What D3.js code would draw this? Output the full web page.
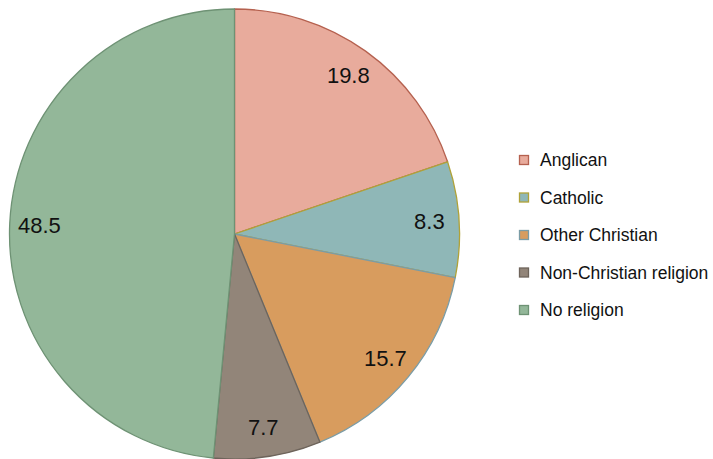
<!DOCTYPE html>
<html>
<head>
<meta charset="utf-8">
<script src="https://cdn.jsdelivr.net/npm/d3@7/dist/d3.min.js"></script>
<style>
  html, body { margin: 0; padding: 0; background: #fff; }
  svg { display: block; }
  text { font-family: "Liberation Sans", Arial, Helvetica, sans-serif; }
</style>
</head>
<body>
<svg id="chart" width="713" height="459"></svg>
<script>
const categories = ["Anglican", "Catholic", "Other Christian", "Non-Christian religion", "No religion"];
const values = [19.8, 8.3, 15.7, 7.7, 48.5];
const fills = ["#e8ab9c", "#8fb7b7", "#d89c5e", "#928579", "#93b799"];
const strokes = ["#b5614f", "#b0a238", "#7a9ca6", "#6e645b", "#6e9274"];

const svg = d3.select("#chart");
const cx = 234.5, cy = 234, r = 225;

const pie = d3.pie().sort(null).value(d => d.value);
const data = categories.map((c, i) => ({ name: c, value: values[i], fill: fills[i], stroke: strokes[i] }));
const arcs = pie(data);

const arc = d3.arc().innerRadius(0).outerRadius(r);
const labelArc = d3.arc().innerRadius(r * 0.868).outerRadius(r * 0.868);

const g = svg.append("g").attr("transform", `translate(${cx},${cy})`);

g.selectAll("path.slice")
  .data(arcs)
  .join("path")
  .attr("class", "slice")
  .attr("d", arc)
  .attr("fill", d => d.data.fill)
  .attr("stroke", d => d.data.stroke)
  .attr("stroke-width", 1.3)
  .attr("stroke-linejoin", "round");

g.selectAll("text.lbl")
  .data(arcs)
  .join("text")
  .attr("class", "lbl")
  .attr("transform", d => `translate(${labelArc.centroid(d)})`)
  .attr("text-anchor", "middle")
  .attr("dy", "0.36em")
  .attr("font-size", 22)
  .attr("fill", "#111")
  .text(d => d3.format(".1f")(d.data.value));

const legend = svg.append("g").attr("transform", "translate(519,160)");
const rowH = 37.5;
const items = legend.selectAll("g.item")
  .data(data)
  .join("g")
  .attr("class", "item")
  .attr("transform", (d, i) => `translate(0,${i * rowH})`);

items.append("rect")
  .attr("x", 0.5).attr("y", -4.5)
  .attr("width", 9).attr("height", 9)
  .attr("fill", d => d.fill)
  .attr("stroke", d => d.stroke)
  .attr("stroke-width", 1.3);

items.append("text")
  .attr("x", 21)
  .attr("dy", "0.36em")
  .attr("font-size", 17.5)
  .attr("fill", "#111")
  .text(d => d.name);
</script>
</body>
</html>
